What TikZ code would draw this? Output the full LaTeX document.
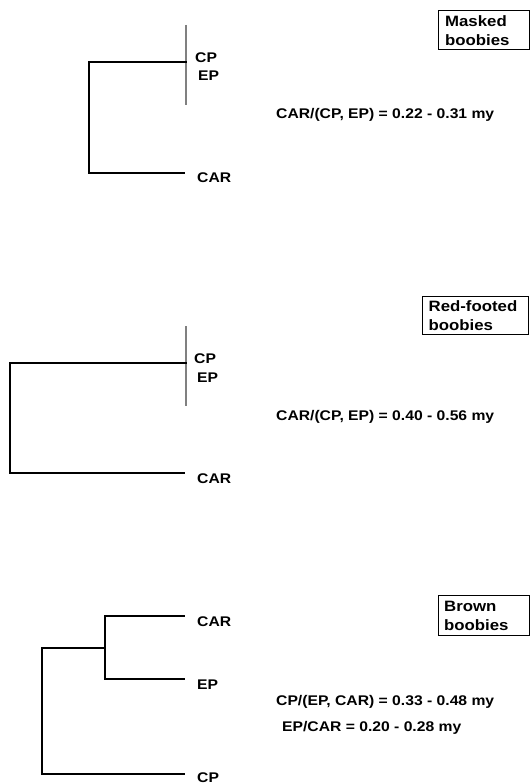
\documentclass[tikz,border=0pt]{standalone}
\usepackage{fontspec}
\setmainfont[FakeStretch=1.12]{Liberation Sans}
\begin{document}
\begin{tikzpicture}[x=1pt,y=-1pt,
  lbl/.style={anchor=base west,inner sep=0pt,font=\fontsize{14}{17}\selectfont\bfseries},
  boxlbl/.style={draw,line width=1.3pt,anchor=north west,inner sep=0pt,align=left,
     font=\fontsize{15}{19}\selectfont\bfseries},
  br/.style={line width=1.8pt,line cap=rect},
  gr/.style={line width=1.8pt,draw=gray}]
\useasboundingbox (0,0) rectangle (531,784);
% Panel 1: masked boobies
\node[boxlbl,minimum width=91pt,minimum height=39pt,text width=78pt] (b1) at (438,10) {Masked\\boobies};
\node[lbl] (cp1) at (195,63) {CP};
\node[lbl] (ep1) at (198,81) {EP};
\node[lbl] (car1) at (197,182) {CAR};
\node[lbl] (f1) at (276,118) {CAR/(CP, EP) = 0.22 - 0.31 my};
\coordinate (g1t) at (186,25); \coordinate (g1b) at (186,105);
\coordinate (n1) at (186,62); \coordinate (r1) at (89,62);
\coordinate (r1b) at (89,173); \coordinate (t1) at (184,173);
\draw[gr] (g1t) -- (g1b);
\draw[br] (n1) -- (r1) -- (r1b) -- (t1);
% Panel 2: red-footed boobies
\node[boxlbl,minimum width=106pt,minimum height=38pt,text width=94pt] (b2) at (422,296) {Red-footed\\boobies};
\node[lbl] (cp2) at (194,363) {CP};
\node[lbl] (ep2) at (197,382) {EP};
\node[lbl] (car2) at (197,483) {CAR};
\node[lbl] (f2) at (276,420) {CAR/(CP, EP) = 0.40 - 0.56 my};
\coordinate (g2t) at (186,326); \coordinate (g2b) at (186,406);
\coordinate (n2) at (186,363); \coordinate (r2) at (10,363);
\coordinate (r2b) at (10,473); \coordinate (t2) at (184,473);
\draw[gr] (g2t) -- (g2b);
\draw[br] (n2) -- (r2) -- (r2b) -- (t2);
% Panel 3: brown boobies
\node[boxlbl,minimum width=91pt,minimum height=40pt,text width=80pt] (b3) at (438,595) {Brown\\boobies};
\node[lbl] (car3) at (197,626) {CAR};
\node[lbl] (ep3) at (197,689) {EP};
\node[lbl] (cp3) at (197,782) {CP};
\node[lbl] (f3) at (276,705) {CP/(EP, CAR) = 0.33 - 0.48 my};
\node[lbl] (f4) at (282,731) {EP/CAR = 0.20 - 0.28 my};
\coordinate (a3) at (184,616); \coordinate (i3t) at (105,616);
\coordinate (i3b) at (105,679); \coordinate (e3) at (184,679);
\coordinate (i3m) at (105,648); \coordinate (r3) at (42,648);
\coordinate (r3b) at (42,774); \coordinate (c3) at (184,774);
\draw[br] (a3) -- (i3t) -- (i3b) -- (e3);
\draw[br] (i3m) -- (r3) -- (r3b) -- (c3);
\end{tikzpicture}
\end{document}
